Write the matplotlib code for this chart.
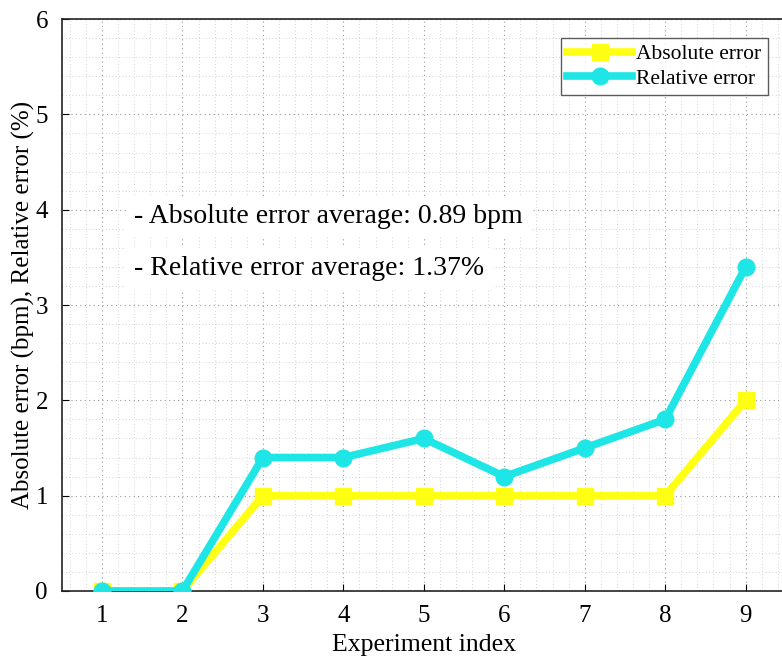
import numpy as np
import matplotlib
matplotlib.use('Agg')
from matplotlib import pyplot as plt
from matplotlib.ticker import MultipleLocator

experiments = [1, 2, 3, 4, 5, 6, 7, 8, 9]
absolute_error = [0, 0, 1, 1, 1, 1, 1, 1, 2]
relative_error = [0, 0, 1.4, 1.4, 1.6, 1.2, 1.5, 1.8, 3.4]
notes = ['- Absolute error average: 0.89 bpm', '- Relative error average: 1.37%']

plt.rcParams['font.family'] = ['Liberation Serif', 'DejaVu Serif']

fig = plt.figure(figsize=(7.82, 6.57), dpi=100)
ax = fig.add_axes([0.079, 0.1005, 0.926, 0.8705])

ax.plot(experiments, absolute_error, color='#ffff14', lw=5.5, marker='s', ms=11,
        label='Absolute error', zorder=3)
ax.plot(experiments, relative_error, color='#1fe6e6', lw=5.5, marker='o', ms=12,
        label='Relative error', zorder=4)

ax.set_xlim(0.5, 9.5)
ax.set_ylim(0, 6)
ax.xaxis.set_major_locator(MultipleLocator(1))
ax.yaxis.set_major_locator(MultipleLocator(1))
ax.xaxis.set_minor_locator(MultipleLocator(0.2))
ax.yaxis.set_minor_locator(MultipleLocator(0.2))
ax.grid(which='major', color='#9a9a9a', linestyle=(0, (1, 3)), lw=0.8)
ax.grid(which='minor', color='#c4c4c4', linestyle=(0, (1, 3)), lw=0.6)
ax.tick_params(which='minor', length=0)
ax.tick_params(which='major', direction='in', length=5, labelsize=18, pad=10)
ax.set_axisbelow(True)
for s in ax.spines.values():
    s.set_linewidth(1.2)
    s.set_color('#222222')

ax.set_xlabel('Experiment index', fontsize=18.5, labelpad=5)
ax.set_ylabel('Absolute error (bpm), Relative error (%)', fontsize=18, labelpad=0)

ax.text(1.4, 3.93, notes[0], fontsize=20, va='center', ha='left',
        bbox=dict(facecolor='white', edgecolor='none', pad=6), zorder=5)
ax.text(1.4, 3.38, notes[1], fontsize=20, va='center', ha='left',
        bbox=dict(facecolor='white', edgecolor='none', pad=6), zorder=5)

leg = ax.legend(loc='upper right', bbox_to_anchor=(0.975, 0.967), fontsize=15.5,
                frameon=True, fancybox=False, edgecolor='#333333',
                handlelength=3.0, handletextpad=0.2, borderpad=0.3, labelspacing=0.2,
                borderaxespad=0)
leg.get_frame().set_linewidth(1.0)

fig.savefig('out.png', dpi=100)
